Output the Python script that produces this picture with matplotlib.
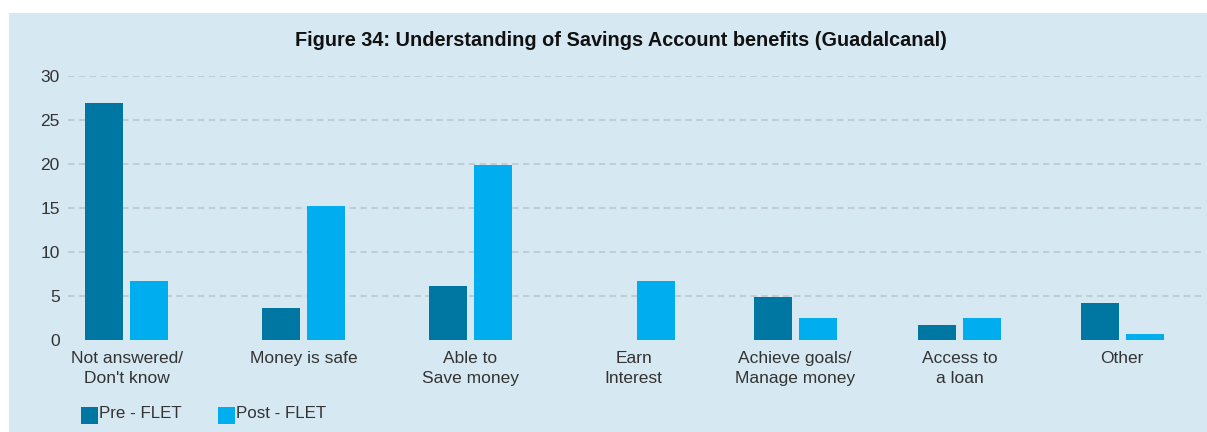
import matplotlib
matplotlib.use("Agg")
import matplotlib.pyplot as plt
from matplotlib.patches import Rectangle

categories = ["Not answered/\nDon't know", "Money is safe", "Able to\nSave money",
              "Earn\nInterest", "Achieve goals/\nManage money", "Access to\na loan", "Other"]
pre_flet = [26.9, 3.6, 6.1, 0.0, 4.9, 1.7, 4.2]
post_flet = [6.7, 15.2, 19.9, 6.7, 2.5, 2.5, 0.7]
series_names = ["Pre - FLET", "Post - FLET"]
y_ticks = [0, 5, 10, 15, 20, 25, 30]
title = "Figure 34: Understanding of Savings Account benefits (Guadalcanal)"

# layout (category centres in axis units, as placed in the original)
positions = [0.353, 1.419, 2.426, 3.409, 4.382, 5.374, 6.353]
bar_w = 0.229
offset = 0.1356

BG = "#d6e8f2"
C_PRE = "#0077a3"
C_POST = "#00adef"
TXT = "#333333"

plt.rcParams['font.family'] = ['Liberation Sans', 'DejaVu Sans']

fig = plt.figure(figsize=(12.07, 4.32), dpi=100)
fig.patch.set_facecolor("white")
fig.patches.append(Rectangle((9 / 1207, 0), 1 - 9 / 1207, 1 - 13 / 432,
                             transform=fig.transFigure, facecolor=BG,
                             edgecolor="none", zorder=-10))

ax = fig.add_axes([68 / 1207, 1 - 340 / 432, (1203 - 68) / 1207, (340 - 76) / 432])
ax.set_zorder(5)
ax.set_facecolor("none")
ax.bar([p - offset for p in positions], pre_flet, width=bar_w, color=C_PRE, zorder=3)
ax.bar([p + offset for p in positions], post_flet, width=bar_w, color=C_POST, zorder=3)

ax.set_xlim(0, 6.841)
ax.set_ylim(0, 30)
ax.set_yticks(y_ticks)
ax.set_yticklabels([str(t) for t in y_ticks], fontsize=12.5, color=TXT)
ax.set_xticks(positions)
ax.set_xticklabels(categories, fontsize=12.5, color=TXT, linespacing=1.4)
ax.tick_params(axis='both', length=0)
ax.tick_params(axis='y', pad=6)
ax.tick_params(axis='x', pad=8)
for s in ax.spines.values():
    s.set_visible(False)
for t in y_ticks[1:]:
    ax.axhline(t, color="#bfcbd3", linewidth=1.3, linestyle=(0, (3.5, 2.5)), zorder=1)

fig.text(621 / 1207, 1 - 40 / 432, title, ha="center", va="center",
         fontsize=14.3, fontweight="bold", color="#111111")

# legend
for i, (name, col) in enumerate(zip(series_names, [C_PRE, C_POST])):
    x0 = [81, 218][i]
    fig.patches.append(Rectangle((x0 / 1207, 1 - 424 / 432), 17 / 1207, 17 / 432,
                                 transform=fig.transFigure, facecolor=col,
                                 edgecolor="none", zorder=2))
    fig.text((x0 + 18) / 1207, 1 - 413 / 432, name, ha="left", va="center",
             fontsize=12.2, color=TXT)

fig.savefig("out.png", dpi=100, facecolor=fig.get_facecolor())
